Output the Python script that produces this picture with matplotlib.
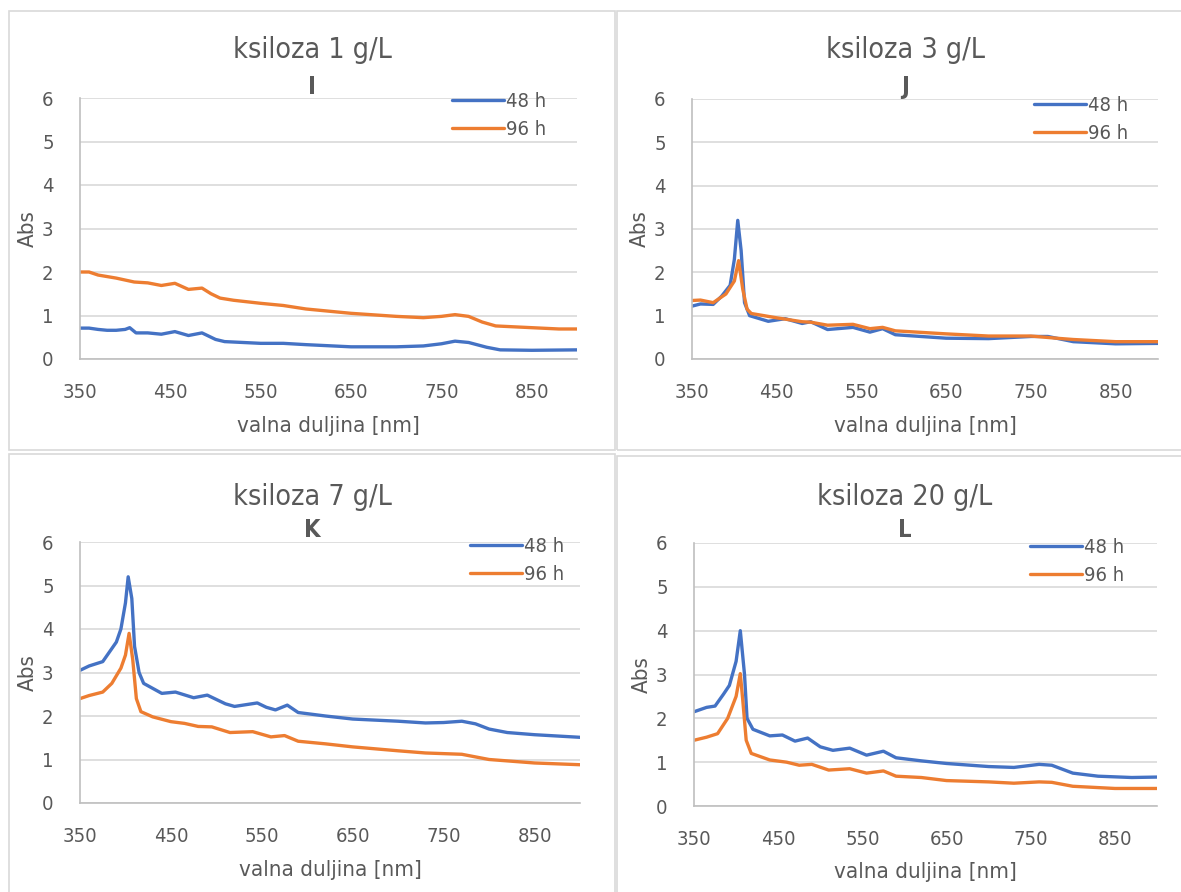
import numpy as np
import matplotlib.pyplot as plt
from matplotlib.patches import Rectangle

W, H = 1181, 892

# panel I - ksiloza 1 g/L
wl_i_48 = [350, 360, 370, 380, 390, 400, 405, 412, 425, 440, 455, 470, 485, 500, 510, 550, 575, 600, 650,
           700, 730, 750, 765, 780, 800, 815, 850, 900]
abs_i_48 = [0.71, 0.71, 0.68, 0.66, 0.66, 0.68, 0.72, 0.60, 0.60, 0.57, 0.63, 0.54, 0.60, 0.45, 0.40, 0.36,
            0.36, 0.33, 0.28, 0.28, 0.30, 0.35, 0.41, 0.38, 0.27, 0.21, 0.20, 0.21]
wl_i_96 = [350, 360, 370, 390, 410, 425, 440, 455, 470, 485, 495, 505, 520, 550, 575, 600, 650, 700, 730,
           750, 765, 780, 795, 810, 850, 880, 900]
abs_i_96 = [2.0, 2.0, 1.93, 1.86, 1.77, 1.75, 1.69, 1.74, 1.60, 1.63, 1.50, 1.40, 1.35, 1.28, 1.23, 1.15,
            1.05, 0.98, 0.95, 0.98, 1.02, 0.98, 0.85, 0.76, 0.72, 0.69, 0.69]

# panel J - ksiloza 3 g/L
wl_j_48 = [350, 360, 375, 385, 395, 400, 404, 408, 412, 418, 440, 460, 480, 490, 510, 540, 560, 575, 590,
           650, 700, 750, 770, 800, 850, 900]
abs_j_48 = [1.22, 1.27, 1.26, 1.45, 1.70, 2.30, 3.20, 2.50, 1.30, 1.0, 0.87, 0.93, 0.82, 0.86, 0.68, 0.73,
            0.62, 0.70, 0.56, 0.48, 0.47, 0.52, 0.52, 0.40, 0.35, 0.36]
wl_j_96 = [350, 360, 375, 390, 400, 405, 410, 415, 420, 450, 480, 490, 510, 540, 560, 575, 590, 650, 700,
           750, 780, 800, 850, 900]
abs_j_96 = [1.35, 1.36, 1.30, 1.50, 1.80, 2.27, 1.60, 1.15, 1.05, 0.95, 0.86, 0.85, 0.78, 0.80, 0.70, 0.73,
            0.65, 0.58, 0.53, 0.53, 0.48, 0.45, 0.40, 0.40]

# panel K - ksiloza 7 g/L
wl_k_48 = [350, 360, 375, 385, 390, 395, 400, 403, 407, 410, 415, 420, 440, 455, 475, 490, 510, 520, 545,
           555, 565, 578, 590, 620, 650, 700, 730, 750, 770, 785, 800, 820, 850, 900]
abs_k_48 = [3.05, 3.15, 3.25, 3.55, 3.70, 4.0, 4.6, 5.2, 4.7, 3.6, 3.0, 2.75, 2.52, 2.55, 2.42, 2.48, 2.28,
            2.22, 2.30, 2.20, 2.14, 2.25, 2.08, 2.0, 1.93, 1.88, 1.84, 1.85, 1.88, 1.82, 1.70, 1.62, 1.57, 1.51]
wl_k_96 = [350, 360, 375, 385, 395, 400, 404, 408, 412, 417, 430, 450, 465, 480, 495, 515, 540, 560, 575,
           590, 620, 650, 700, 730, 770, 800, 850, 900]
abs_k_96 = [2.40, 2.47, 2.55, 2.75, 3.10, 3.40, 3.90, 3.30, 2.40, 2.10, 1.98, 1.87, 1.83, 1.76, 1.75, 1.62,
            1.64, 1.52, 1.55, 1.42, 1.36, 1.29, 1.20, 1.15, 1.12, 1.0, 0.92, 0.88]

# panel L - ksiloza 20 g/L
wl_l_48 = [350, 365, 375, 385, 392, 400, 405, 410, 413, 420, 440, 455, 470, 485, 500, 515, 535, 555, 575,
           590, 620, 650, 700, 730, 760, 775, 800, 830, 870, 900]
abs_l_48 = [2.15, 2.25, 2.28, 2.55, 2.75, 3.30, 4.0, 3.0, 2.0, 1.75, 1.60, 1.62, 1.48, 1.55, 1.35, 1.27,
            1.32, 1.16, 1.25, 1.10, 1.03, 0.97, 0.90, 0.88, 0.95, 0.93, 0.75, 0.68, 0.65, 0.66]
wl_l_96 = [350, 365, 378, 390, 400, 405, 408, 412, 418, 440, 460, 475, 490, 510, 535, 555, 575, 590, 620,
           650, 700, 730, 760, 775, 800, 850, 900]
abs_l_96 = [1.50, 1.57, 1.65, 2.0, 2.50, 3.02, 2.40, 1.50, 1.20, 1.05, 1.0, 0.93, 0.95, 0.82, 0.85, 0.75,
            0.80, 0.68, 0.65, 0.58, 0.55, 0.52, 0.55, 0.54, 0.45, 0.40, 0.40]

titles = ["ksiloza 1 g/L", "ksiloza 3 g/L", "ksiloza 7 g/L", "ksiloza 20 g/L"]
letters = ["I", "J", "K", "L"]
labels = ["48 h", "96 h"]
xticks = [350, 450, 550, 650, 750, 850]
yticks = [0, 1, 2, 3, 4, 5, 6]

series = [
    (wl_i_48, abs_i_48, wl_i_96, abs_i_96),
    (wl_j_48, abs_j_48, wl_j_96, abs_j_96),
    (wl_k_48, abs_k_48, wl_k_96, abs_k_96),
    (wl_l_48, abs_l_48, wl_l_96, abs_l_96),
]

# layout in pixels: axes box (left, top, right, bottom), panel border, title centre, legend anchor
axes_px = [(80, 98, 577, 359), (692, 99, 1158, 359), (80, 542, 580, 803), (694, 543, 1157, 806)]
border_px = [(9, 11, 615, 450), (617, 11, 1190, 450), (9, 454, 615, 900), (617, 456, 1190, 900)]
title_px = [(312, 50), (905, 50), (312, 497), (905, 497)]
letter_px = [(312, 87), (905, 87), (312, 530), (905, 530)]
legend_px = [(452, 92), (1034, 96), (470, 537), (1030, 538)]

TXT = "#595959"
BLUE = "#4472C4"
ORANGE = "#ED7D31"

plt.rcParams['font.family'] = ['DejaVu Sans']
plt.rcParams['font.stretch'] = 'condensed'

fig = plt.figure(figsize=(W / 100, H / 100), dpi=100)
fig.patch.set_facecolor("white")


def fx(px):
    return px / W


def fy(py):
    return 1 - py / H


for k in range(4):
    bl, bt, br, bb = border_px[k]
    fig.patches.append(Rectangle((fx(bl), fy(bb)), fx(br - bl), (bb - bt) / H, transform=fig.transFigure,
                                 fill=False, edgecolor="#D9D9D9", linewidth=1.2))

    l, t, r, b = axes_px[k]
    ax = fig.add_axes([fx(l), fy(b), fx(r - l), (b - t) / H])
    x48, y48, x96, y96 = series[k]
    ax.plot(x48, y48, color=BLUE, lw=2.4, solid_joinstyle="round", solid_capstyle="round", label=labels[0])
    ax.plot(x96, y96, color=ORANGE, lw=2.4, solid_joinstyle="round", solid_capstyle="round", label=labels[1])
    ax.set_xlim(350, 900)
    ax.set_ylim(0, 6)
    ax.set_xticks(xticks)
    ax.set_yticks(yticks)
    ax.grid(axis="y", color="#D9D9D9", lw=1.2)
    ax.set_axisbelow(True)
    for s in ["top", "right"]:
        ax.spines[s].set_visible(False)
    for s in ["left", "bottom"]:
        ax.spines[s].set_color("#BFBFBF")
        ax.spines[s].set_linewidth(1.2)
    ax.tick_params(length=0, labelsize=14.5, colors=TXT)
    ax.tick_params(axis="x", pad=17)
    ax.tick_params(axis="y", pad=19)
    ax.set_xlabel("valna duljina [nm]", fontsize=16, color=TXT, labelpad=10)
    ax.set_ylabel("Abs", fontsize=16, color=TXT, labelpad=3)

    fig.text(fx(title_px[k][0]), fy(title_px[k][1]), titles[k], ha="center", va="center",
             fontsize=20.5, color=TXT)
    fig.text(fx(letter_px[k][0]), fy(letter_px[k][1]), letters[k], ha="center", va="center",
             fontsize=17, fontweight="bold", color=TXT)

    leg = ax.legend(loc="upper left", bbox_to_anchor=(fx(legend_px[k][0]), fy(legend_px[k][1])),
                    bbox_transform=fig.transFigure, frameon=False, fontsize=14.5, handlelength=2.6,
                    handletextpad=0.1, labelspacing=0.45, borderpad=0, borderaxespad=0)
    for txt in leg.get_texts():
        txt.set_color(TXT)

fig.savefig("out.png", dpi=100, facecolor="white")
